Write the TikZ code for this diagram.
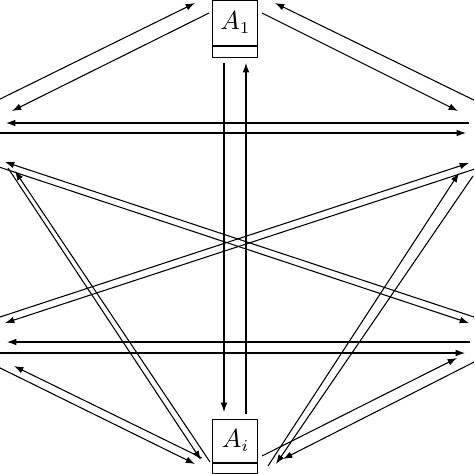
\documentclass[tikz,border=0pt]{standalone}
\usetikzlibrary{arrows.meta}
\begin{document}
\begin{tikzpicture}[x=0.42pt,y=-0.42pt,
  box/.style={draw, line width=0.42pt, inner sep=0pt, minimum width=18.9pt, font=\fontsize{10.5}{12}\selectfont},
  boxlow/.style={draw, line width=0.42pt, inner sep=0pt, minimum width=18.9pt, minimum height=4.6pt, anchor=north},
  conn/.style={-{Latex[length=3.9pt,width=2.8pt]}, line width=0.45pt}]
\useasboundingbox (0,0) rectangle (474,474);
\clip (0,0) rectangle (474,474);
% nodes
\node[box, minimum height=19.3pt] (A1) at (235.5,23) {\raisebox{-1.2pt}{$A_1$}};
\node[boxlow] (A1s) at (A1.south) {};
\node[box, minimum height=18.06pt] (Ai) at (235.5,440.5) {\raisebox{-0.6pt}{$A_i$}};
\node[boxlow] (Ais) at (Ai.south) {};
% endpoints
\coordinate (p1s) at (-10,104);   \coordinate (p1e) at (195,3);
\coordinate (p2s) at (209,13);    \coordinate (p2e) at (12,111);
\coordinate (p3s) at (484,105);   \coordinate (p3e) at (275,3);
\coordinate (p4s) at (262,13);    \coordinate (p4e) at (458,111);
\coordinate (p5s) at (469,123);   \coordinate (p5e) at (6,123);
\coordinate (p6s) at (-10,133);   \coordinate (p6e) at (466,133);
\coordinate (p7s) at (224,63);    \coordinate (p7e) at (224,412);
\coordinate (p8s) at (246,414);   \coordinate (p8e) at (246,63);
\coordinate (p9s) at (484,320.3); \coordinate (p9e) at (5,162);
\coordinate (p10s) at (-10,164);  \coordinate (p10e) at (469,323);
\coordinate (p11s) at (-10,320.3);\coordinate (p11e) at (469,163);
\coordinate (p12s) at (484,166);  \coordinate (p12e) at (5,323);
\coordinate (p13s) at (470,342);  \coordinate (p13e) at (7,342);
\coordinate (p14s) at (-10,353);  \coordinate (p14e) at (465,353);
\coordinate (p15s) at (8,168);    \coordinate (p15e) at (201,460);
\coordinate (p16s) at (210,462);  \coordinate (p16e) at (15,171);
\coordinate (p17s) at (-10,363);  \coordinate (p17e) at (195,464);
\coordinate (p18s) at (202,458);  \coordinate (p18e) at (14,366);
\coordinate (p19s) at (268,466);  \coordinate (p19e) at (459,173);
\coordinate (p20s) at (473,176);  \coordinate (p20e) at (276,464);
\coordinate (p21s) at (262,456);  \coordinate (p21e) at (457,358);
\coordinate (p22s) at (484,357);  \coordinate (p22e) at (283,459);
% connectors
\foreach \i in {1,...,22} {\draw[conn] (p\i s) -- (p\i e);}
\end{tikzpicture}
\end{document}
